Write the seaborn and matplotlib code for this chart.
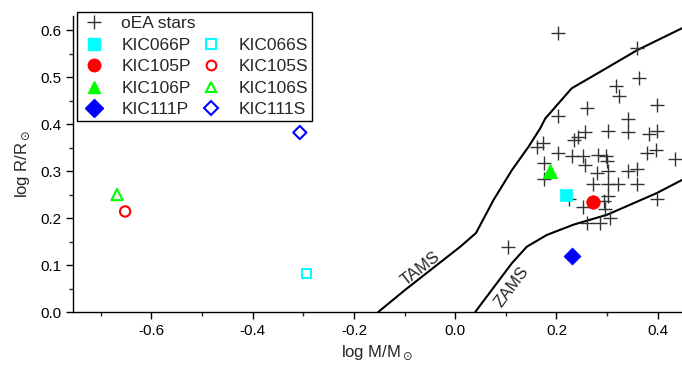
import matplotlib
matplotlib.use("Agg")
import matplotlib.pyplot as plt
import seaborn as sns
import pandas as pd
import numpy as np
from matplotlib.lines import Line2D
from matplotlib.ticker import MultipleLocator

# ---- data ----
oea_x = [0.204, 0.360, 0.364, 0.318, 0.324, 0.260, 0.398, 0.204, 0.342, 0.342,
         0.301, 0.257, 0.242, 0.235, 0.382, 0.398, 0.173, 0.161, 0.204, 0.230,
         0.253, 0.257, 0.282, 0.297, 0.300, 0.378, 0.397, 0.434, 0.175, 0.176,
         0.280, 0.301, 0.342, 0.359, 0.272, 0.301, 0.322, 0.359, 0.224, 0.253,
         0.301, 0.293, 0.296, 0.398, 0.306, 0.286, 0.260, 0.104]
oea_y = [0.593, 0.561, 0.497, 0.482, 0.460, 0.434, 0.441, 0.417, 0.410, 0.384,
         0.386, 0.384, 0.372, 0.367, 0.379, 0.386, 0.360, 0.351, 0.339, 0.332,
         0.331, 0.313, 0.334, 0.333, 0.322, 0.339, 0.345, 0.325, 0.317, 0.283,
         0.295, 0.301, 0.301, 0.305, 0.273, 0.273, 0.273, 0.273, 0.241, 0.224,
         0.247, 0.237, 0.219, 0.240, 0.200, 0.189, 0.190, 0.139]

tams_x = [-0.152, -0.099, 0.010, 0.041, 0.076, 0.112, 0.145, 0.168, 0.178, 0.230, 0.286, 0.359, 0.448]
tams_y = [0.000, 0.047, 0.139, 0.168, 0.239, 0.302, 0.352, 0.391, 0.412, 0.476, 0.511, 0.557, 0.604]

zams_x = [0.0395, 0.112, 0.1415, 0.181, 0.234, 0.300, 0.398, 0.448]
zams_y = [0.000, 0.104, 0.139, 0.164, 0.186, 0.207, 0.253, 0.281]

star_names = ["KIC066", "KIC105", "KIC106", "KIC111"]
prim_x = [0.218, 0.272, 0.188, 0.230]
prim_y = [0.250, 0.234, 0.300, 0.120]
sec_x = [-0.293, -0.652, -0.668, -0.307]
sec_y = [0.082, 0.214, 0.250, 0.382]
star_colors = ["#00FFFF", "#FF0000", "#00FF00", "#0000FF"]
star_markers = ["s", "o", "^", "D"]

sns.set_theme(style="ticks")
plt.rcParams["font.family"] = ["Liberation Sans", "DejaVu Sans"]
plt.rcParams["axes.unicode_minus"] = False

fig = plt.figure(figsize=(6.82, 3.65), dpi=100)
ax = fig.add_axes([73/682, 1-312/365, 1-73/682, (312-16)/365])

# tracks
sns.lineplot(x=tams_x, y=tams_y, sort=False, estimator=None, color="black", lw=1.5, ax=ax)
sns.lineplot(x=zams_x, y=zams_y, sort=False, estimator=None, color="black", lw=1.5, ax=ax)

# oEA stars
sns.scatterplot(x=oea_x, y=oea_y, marker="+", s=90, color="#333333", linewidth=1.0, ax=ax, zorder=3)

sizes_f = {"s": 75, "o": 95, "^": 110, "D": 75}
sizes_o = {"s": 40, "o": 55, "^": 65, "D": 45}
for i in range(4):
    sns.scatterplot(x=[prim_x[i]], y=[prim_y[i]], marker=star_markers[i], s=sizes_f[star_markers[i]],
                    color=star_colors[i], edgecolor=star_colors[i], linewidth=0.5, ax=ax, zorder=4)
    ax.scatter([sec_x[i]], [sec_y[i]], marker=star_markers[i], s=sizes_o[star_markers[i]],
               facecolors="none", edgecolors=star_colors[i], linewidths=1.5, zorder=4)

ax.text(-0.069, 0.092, "TAMS", rotation=38, ha="center", va="center", fontsize=12)
ax.text(0.112, 0.054, "ZAMS", rotation=53, ha="center", va="center", fontsize=12)

ax.set_xlim(-0.755, 0.448)
ax.set_ylim(0.0, 0.63)
ax.xaxis.set_major_locator(MultipleLocator(0.2))
ax.xaxis.set_minor_locator(MultipleLocator(0.1))
ax.yaxis.set_major_locator(MultipleLocator(0.1))
ax.yaxis.set_minor_locator(MultipleLocator(0.05))
ax.xaxis.set_major_formatter(matplotlib.ticker.FormatStrFormatter("%.1f"))
ax.yaxis.set_major_formatter(matplotlib.ticker.FormatStrFormatter("%.1f"))
ax.tick_params(which="major", direction="out", length=5, width=1, labelsize=11, colors="black")
ax.tick_params(which="minor", direction="out", length=3, width=1)
for s in ["top", "right"]:
    ax.spines[s].set_visible(False)
for s in ["left", "bottom"]:
    ax.spines[s].set_linewidth(1.0)
    ax.spines[s].set_color("black")

ax.set_xlabel(r"log M/M$_\odot$", fontsize=12, labelpad=4)
ax.set_ylabel(r"log R/R$_\odot$", fontsize=12, labelpad=6)

# legend
handles = [Line2D([], [], ls="none", marker="+", ms=10, mew=1.0, color="#333333")]
labels = ["oEA stars"]
for i in range(4):
    handles.append(Line2D([], [], ls="none", marker=star_markers[i], ms=9, color=star_colors[i]))
    labels.append(star_names[i] + "P")
handles.append(Line2D([], [], ls="none"))
labels.append("")
for i in range(4):
    handles.append(Line2D([], [], ls="none", marker=star_markers[i], ms=7, mfc="none",
                          mec=star_colors[i], mew=1.5))
    labels.append(star_names[i] + "S")
leg = fig.legend(handles, labels, ncol=2, loc="upper left", bbox_to_anchor=(77/682, 1-12/365),
                 fontsize=12.5, frameon=True, fancybox=False, edgecolor="black", framealpha=1,
                 handlelength=1.5, handletextpad=0.8, columnspacing=0.15, labelspacing=0.36,
                 borderpad=0.25, borderaxespad=0)
leg.get_frame().set_linewidth(1.0)

fig.savefig("out.png", dpi=100)
